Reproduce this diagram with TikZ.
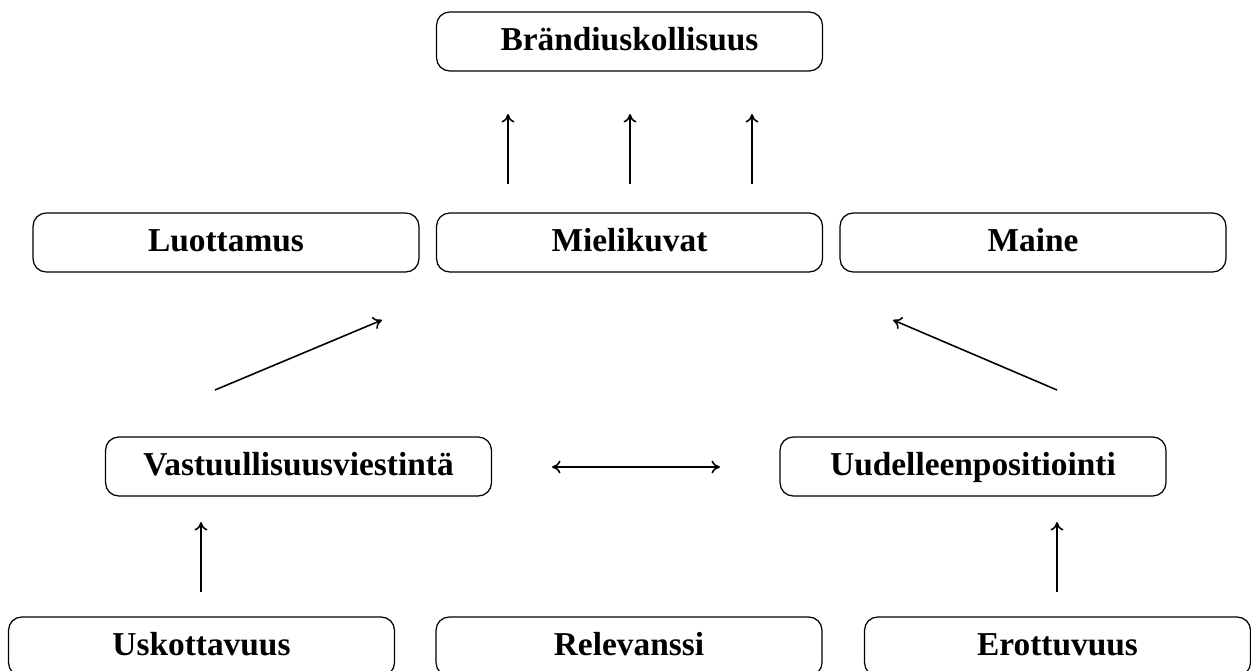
\documentclass[tikz,border=0pt]{standalone}
\usepackage{fontspec}
\setmainfont{Liberation Serif}
\usepackage{tikz}
\usetikzlibrary{arrows.meta}

\begin{document}
\begin{tikzpicture}[
  x=0.02cm, y=-0.02cm,
  box/.style={draw, rounded corners=7.5pt, align=center, line width=0.7pt,
              font=\fontsize{19}{23}\selectfont\bfseries,
              text height=13.5pt, text depth=3.5pt,
              minimum width=7.72cm, minimum height=1.18cm, inner sep=0pt},
  arr/.style={-{To[length=1.7mm, width=2.6mm, line width=0.9pt]}, line width=0.9pt},
  dblarr/.style={{To[length=1.7mm, width=2.6mm, line width=0.9pt]}-{To[length=1.7mm, width=2.6mm, line width=0.9pt]}, line width=0.9pt}
]
  \useasboundingbox (0,0) rectangle (1251,670);

  % Top
  \node[box] (brand) at (629.5,41.5) {Brändiuskollisuus};

  % Middle row
  \node[box] (luottamus) at (226,242.5) {Luottamus};
  \node[box] (mielikuvat) at (629.5,242.5) {Mielikuvat};
  \node[box] (maine) at (1033,242.5) {Maine};

  % Strategies
  \node[box] (vastuu) at (298.5,466.5) {Vastuullisuusviestintä};
  \node[box] (uudell) at (973,466.5) {Uudelleenpositiointi};

  % Bottom row
  \node[box] (usko) at (201.5,646.5) {Uskottavuus};
  \node[box] (relev) at (629,646.5) {Relevanssi};
  \node[box] (erot) at (1057.5,646.5) {Erottuvuus};

  % Arrow ends
  \coordinate (a1s) at (508,184); \coordinate (a1e) at (508,114);
  \coordinate (a2s) at (630,184); \coordinate (a2e) at (630,114);
  \coordinate (a3s) at (752,184); \coordinate (a3e) at (752,114);
  \coordinate (d1s) at (215,390); \coordinate (d1e) at (382,320);
  \coordinate (d2s) at (1057,390); \coordinate (d2e) at (893,320);
  \coordinate (hs) at (552,467); \coordinate (he) at (720,467);
  \coordinate (u1s) at (201,592); \coordinate (u1e) at (201,522);
  \coordinate (u2s) at (1057,592); \coordinate (u2e) at (1057,522);

  % Arrows
  \draw[arr] (a1s) -- (a1e);
  \draw[arr] (a2s) -- (a2e);
  \draw[arr] (a3s) -- (a3e);
  \draw[arr] (d1s) -- (d1e);
  \draw[arr] (d2s) -- (d2e);
  \draw[dblarr] (hs) -- (he);
  \draw[arr] (u1s) -- (u1e);
  \draw[arr] (u2s) -- (u2e);
\end{tikzpicture}
\end{document}
